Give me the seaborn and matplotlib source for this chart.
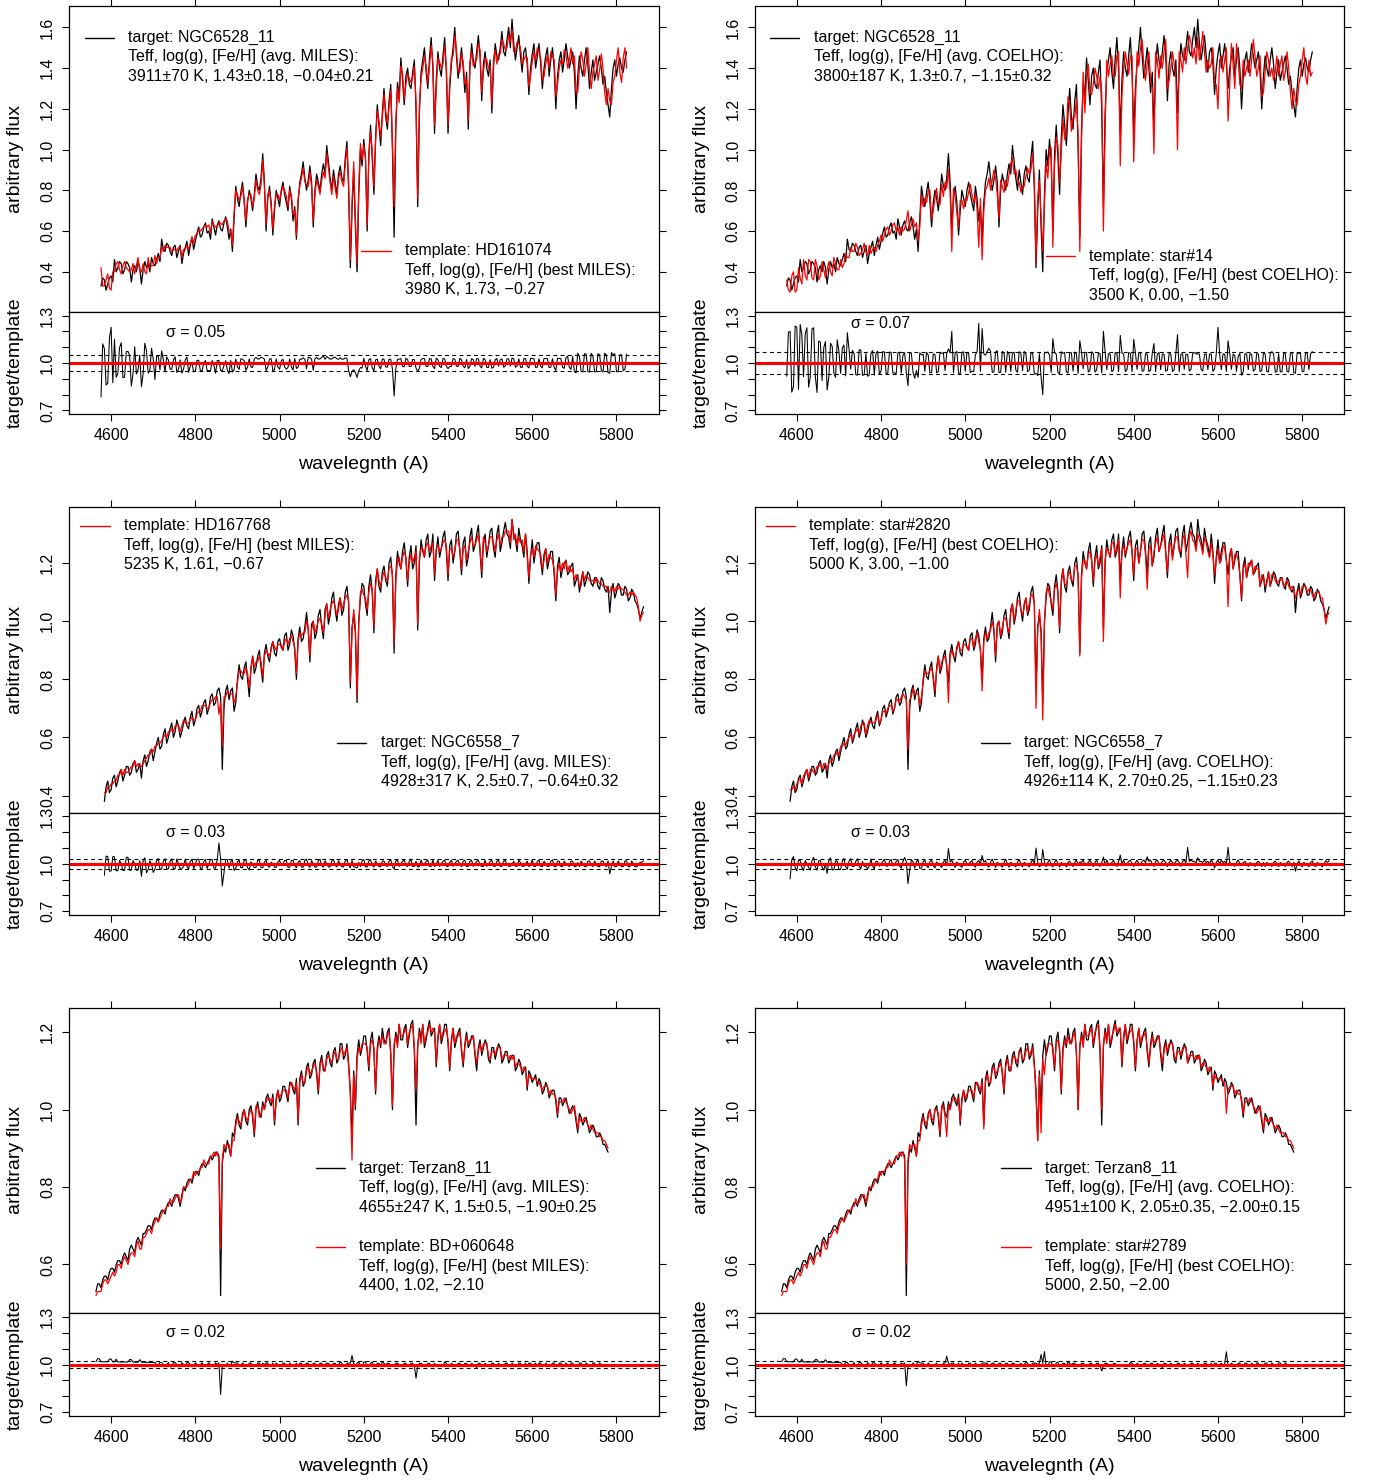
import numpy as np
import pandas as pd
import matplotlib
matplotlib.use("Agg")
import matplotlib.pyplot as plt
from matplotlib.lines import Line2D
import seaborn as sns

W, H, DPI = 1375, 1481, 100

# ---------------------------------------------------------------- data
# spectra are sampled every 4 A starting at the first wavelength of each star
wl_step = 4
wl_start_ngc6528 = 4576
wl_start_ngc6558 = 4584
wl_start_terzan8 = 4564

target_ngc6528 = [
    0.33, 0.37, 0.36, 0.31, 0.34, 0.37, 0.38, 0.35, 0.46, 0.40,
    0.42, 0.45, 0.44, 0.39, 0.41, 0.45, 0.44, 0.42, 0.35, 0.41,
    0.43, 0.40, 0.45, 0.42, 0.34, 0.41, 0.45, 0.42, 0.44, 0.40,
    0.47, 0.44, 0.43, 0.46, 0.49, 0.45, 0.56, 0.51, 0.50, 0.54,
    0.53, 0.50, 0.48, 0.52, 0.53, 0.47, 0.50, 0.53, 0.44, 0.49,
    0.52, 0.55, 0.48, 0.53, 0.57, 0.51, 0.55, 0.59, 0.62, 0.57,
    0.58, 0.62, 0.64, 0.59, 0.60, 0.56, 0.66, 0.62, 0.58, 0.63,
    0.65, 0.61, 0.60, 0.64, 0.67, 0.62, 0.56, 0.61, 0.50, 0.66,
    0.82, 0.76, 0.72, 0.79, 0.84, 0.75, 0.62, 0.74, 0.80, 0.76,
    0.70, 0.78, 0.88, 0.82, 0.80, 0.86, 0.98, 0.84, 0.60, 0.76,
    0.82, 0.74, 0.58, 0.70, 0.80, 0.76, 0.72, 0.80, 0.84, 0.78,
    0.74, 0.70, 0.82, 0.76, 0.65, 0.72, 0.56, 0.74, 0.84, 0.88,
    0.94, 0.86, 0.80, 0.85, 0.92, 0.84, 0.62, 0.80, 0.88, 0.84,
    0.80, 0.88, 0.93, 0.88, 1.02, 0.94, 0.86, 0.80, 0.90, 0.84,
    0.78, 0.88, 0.92, 0.86, 0.84, 0.96, 1.04, 0.80, 0.42, 0.70,
    0.90, 0.62, 0.40, 0.78, 1.00, 0.92, 1.05, 0.95, 0.60, 0.98,
    1.12, 0.96, 0.78, 1.06, 1.22, 1.12, 1.02, 1.18, 1.30, 1.16,
    1.10, 1.24, 1.32, 1.00, 0.57, 1.10, 1.33, 1.26, 1.45, 1.34,
    1.22, 1.36, 1.40, 1.32, 1.30, 1.38, 1.44, 1.20, 0.72, 1.18,
    1.38, 1.44, 1.50, 1.38, 1.30, 1.45, 1.55, 1.40, 1.08, 1.34,
    1.48, 1.40, 1.36, 1.46, 1.55, 1.38, 1.08, 1.30, 1.42, 1.50,
    1.60, 1.46, 1.35, 1.42, 1.50, 1.40, 1.28, 1.38, 1.10, 1.40,
    1.52, 1.44, 1.40, 1.48, 1.56, 1.46, 1.24, 1.42, 1.48, 1.40,
    1.36, 1.44, 1.18, 1.40, 1.52, 1.46, 1.44, 1.50, 1.58, 1.48,
    1.46, 1.54, 1.60, 1.50, 1.64, 1.52, 1.44, 1.50, 1.56, 1.46,
    1.38, 1.48, 1.50, 1.42, 1.27, 1.40, 1.47, 1.52, 1.40, 1.46,
    1.52, 1.42, 1.30, 1.40, 1.46, 1.50, 1.36, 1.44, 1.50, 1.40,
    1.20, 1.36, 1.44, 1.48, 1.38, 1.44, 1.52, 1.46, 1.40, 1.44,
    1.48, 1.38, 1.20, 1.36, 1.46, 1.40, 1.36, 1.44, 1.50, 1.42,
    1.30, 1.38, 1.44, 1.34, 1.38, 1.42, 1.46, 1.40, 1.32, 1.36,
    1.28, 1.22, 1.16, 1.30, 1.40, 1.44, 1.36, 1.42, 1.45, 1.40,
    1.38, 1.44, 1.48,
]
miles_hd161074 = [
    0.42, 0.33, 0.33, 0.36, 0.39, 0.32, 0.31, 0.40, 0.40, 0.44,
    0.45, 0.41, 0.39, 0.43, 0.45, 0.42, 0.41, 0.40, 0.41, 0.44,
    0.39, 0.43, 0.47, 0.40, 0.40, 0.44, 0.40, 0.39, 0.47, 0.42,
    0.43, 0.43, 0.48, 0.44, 0.47, 0.47, 0.52, 0.50, 0.53, 0.52,
    0.52, 0.52, 0.50, 0.51, 0.51, 0.50, 0.52, 0.52, 0.47, 0.51,
    0.51, 0.53, 0.51, 0.54, 0.57, 0.54, 0.58, 0.58, 0.61, 0.60,
    0.61, 0.62, 0.63, 0.62, 0.63, 0.59, 0.65, 0.63, 0.62, 0.62,
    0.64, 0.64, 0.63, 0.65, 0.66, 0.65, 0.60, 0.60, 0.53, 0.69,
    0.80, 0.78, 0.75, 0.77, 0.82, 0.74, 0.65, 0.76, 0.78, 0.78,
    0.72, 0.76, 0.85, 0.80, 0.78, 0.83, 0.95, 0.82, 0.63, 0.78,
    0.80, 0.72, 0.61, 0.73, 0.78, 0.78, 0.75, 0.79, 0.82, 0.80,
    0.77, 0.72, 0.80, 0.78, 0.68, 0.70, 0.58, 0.76, 0.82, 0.86,
    0.91, 0.84, 0.83, 0.82, 0.89, 0.82, 0.65, 0.78, 0.85, 0.82,
    0.78, 0.85, 0.89, 0.86, 0.98, 0.91, 0.84, 0.78, 0.87, 0.81,
    0.76, 0.86, 0.89, 0.84, 0.82, 0.93, 1.01, 0.84, 0.46, 0.74,
    0.94, 0.66, 0.44, 0.82, 1.03, 0.95, 1.02, 0.97, 0.63, 0.96,
    1.09, 0.99, 0.82, 1.04, 1.19, 1.14, 1.06, 1.15, 1.27, 1.19,
    1.13, 1.21, 1.29, 1.04, 0.72, 1.14, 1.30, 1.23, 1.41, 1.37,
    1.25, 1.32, 1.37, 1.35, 1.33, 1.35, 1.41, 1.24, 0.76, 1.22,
    1.35, 1.40, 1.46, 1.41, 1.33, 1.41, 1.51, 1.43, 1.12, 1.30,
    1.45, 1.43, 1.40, 1.42, 1.51, 1.41, 1.12, 1.33, 1.45, 1.46,
    1.56, 1.49, 1.38, 1.38, 1.47, 1.43, 1.32, 1.35, 1.14, 1.43,
    1.48, 1.41, 1.43, 1.44, 1.52, 1.49, 1.28, 1.38, 1.45, 1.44,
    1.40, 1.41, 1.22, 1.44, 1.49, 1.42, 1.47, 1.47, 1.54, 1.52,
    1.49, 1.50, 1.56, 1.53, 1.59, 1.48, 1.48, 1.53, 1.52, 1.50,
    1.42, 1.44, 1.46, 1.45, 1.31, 1.36, 1.43, 1.48, 1.44, 1.50,
    1.48, 1.45, 1.34, 1.36, 1.42, 1.46, 1.40, 1.48, 1.46, 1.44,
    1.26, 1.32, 1.40, 1.44, 1.42, 1.49, 1.47, 1.40, 1.44, 1.50,
    1.42, 1.46, 1.28, 1.28, 1.40, 1.48, 1.44, 1.36, 1.42, 1.50,
    1.38, 1.30, 1.38, 1.42, 1.46, 1.34, 1.39, 1.47, 1.40, 1.28,
    1.22, 1.30, 1.24, 1.22, 1.33, 1.36, 1.44, 1.50, 1.38, 1.33,
    1.45, 1.50, 1.40,
]
coelho_star14 = [
    0.36, 0.31, 0.30, 0.38, 0.40, 0.30, 0.31, 0.42, 0.37, 0.34,
    0.46, 0.38, 0.36, 0.46, 0.45, 0.37, 0.36, 0.46, 0.43, 0.36,
    0.38, 0.45, 0.41, 0.37, 0.41, 0.45, 0.40, 0.38, 0.47, 0.44,
    0.41, 0.41, 0.46, 0.42, 0.44, 0.49, 0.47, 0.47, 0.52, 0.50,
    0.50, 0.54, 0.52, 0.48, 0.49, 0.51, 0.54, 0.50, 0.48, 0.53,
    0.49, 0.51, 0.52, 0.50, 0.53, 0.55, 0.58, 0.55, 0.58, 0.61,
    0.62, 0.58, 0.60, 0.63, 0.64, 0.60, 0.62, 0.58, 0.62, 0.60,
    0.61, 0.65, 0.70, 0.60, 0.63, 0.66, 0.62, 0.64, 0.55, 0.62,
    0.78, 0.72, 0.76, 0.74, 0.80, 0.80, 0.66, 0.70, 0.76, 0.81,
    0.74, 0.73, 0.83, 0.77, 0.84, 0.81, 0.90, 0.79, 0.50, 0.81,
    0.77, 0.69, 0.62, 0.75, 0.75, 0.71, 0.76, 0.75, 0.79, 0.83,
    0.78, 0.74, 0.78, 0.71, 0.52, 0.76, 0.46, 0.70, 0.80, 0.82,
    0.86, 0.80, 0.85, 0.90, 0.86, 0.78, 0.66, 0.85, 0.82, 0.79,
    0.85, 0.82, 0.88, 0.93, 0.96, 0.88, 0.90, 0.85, 0.84, 0.79,
    0.82, 0.82, 0.87, 0.91, 0.88, 0.90, 0.98, 0.86, 0.45, 0.76,
    0.85, 0.68, 0.50, 0.73, 0.94, 0.86, 1.00, 1.01, 0.52, 0.92,
    1.06, 1.02, 0.84, 0.99, 1.15, 1.05, 1.08, 1.26, 1.22, 1.09,
    1.16, 1.16, 1.25, 1.07, 0.50, 1.03, 1.38, 1.18, 1.36, 1.42,
    1.28, 1.27, 1.32, 1.40, 1.36, 1.30, 1.36, 1.28, 0.60, 1.10,
    1.44, 1.36, 1.42, 1.46, 1.36, 1.36, 1.46, 1.48, 0.92, 1.26,
    1.40, 1.48, 1.42, 1.37, 1.46, 1.46, 0.94, 1.22, 1.48, 1.41,
    1.50, 1.54, 1.42, 1.34, 1.42, 1.48, 1.34, 1.30, 0.98, 1.48,
    1.44, 1.35, 1.46, 1.40, 1.48, 1.54, 1.30, 1.34, 1.40, 1.48,
    1.42, 1.36, 1.00, 1.48, 1.44, 1.38, 1.50, 1.42, 1.50, 1.56,
    1.52, 1.45, 1.50, 1.42, 1.55, 1.44, 1.50, 1.58, 1.48, 1.38,
    1.44, 1.40, 1.42, 1.50, 1.32, 1.32, 1.20, 1.44, 1.46, 1.38,
    1.44, 1.50, 1.14, 1.32, 1.52, 1.42, 1.30, 1.52, 1.44, 1.32,
    1.30, 1.44, 1.36, 1.40, 1.44, 1.36, 1.44, 1.54, 1.46, 1.36,
    1.40, 1.46, 1.26, 1.28, 1.38, 1.48, 1.44, 1.36, 1.40, 1.34,
    1.38, 1.46, 1.36, 1.42, 1.46, 1.34, 1.38, 1.48, 1.40, 1.28,
    1.20, 1.30, 1.24, 1.22, 1.32, 1.36, 1.44, 1.50, 1.36, 1.32,
    1.44, 1.36, 1.38,
]

target_ngc6558 = [
    0.38, 0.43, 0.45, 0.41, 0.42, 0.46, 0.47, 0.43, 0.45, 0.48,
    0.49, 0.45, 0.47, 0.50, 0.50, 0.47, 0.48, 0.51, 0.52, 0.48,
    0.49, 0.51, 0.46, 0.52, 0.54, 0.50, 0.52, 0.55, 0.56, 0.52,
    0.55, 0.58, 0.60, 0.56, 0.57, 0.61, 0.63, 0.58, 0.60, 0.63,
    0.65, 0.60, 0.62, 0.66, 0.64, 0.60, 0.62, 0.65, 0.67, 0.64,
    0.63, 0.67, 0.69, 0.64, 0.66, 0.70, 0.71, 0.67, 0.69, 0.72,
    0.73, 0.68, 0.70, 0.74, 0.75, 0.71, 0.72, 0.76, 0.77, 0.74,
    0.49, 0.70, 0.76, 0.78, 0.73, 0.76, 0.77, 0.69, 0.72, 0.80,
    0.85, 0.81, 0.80, 0.84, 0.86, 0.80, 0.74, 0.84, 0.88, 0.82,
    0.84, 0.88, 0.90, 0.84, 0.79, 0.89, 0.92, 0.88, 0.86, 0.91,
    0.93, 0.89, 0.88, 0.93, 0.94, 0.91, 0.90, 0.95, 0.96, 0.90,
    0.92, 0.97, 0.95, 0.90, 0.80, 0.94, 0.98, 0.93, 0.94, 0.98,
    1.03, 0.97, 0.86, 0.99, 1.00, 0.94, 0.96, 1.02, 1.04, 0.98,
    0.94, 1.04, 1.06, 0.99, 1.02, 1.08, 1.10, 1.04, 1.00, 1.06,
    1.08, 1.02, 1.04, 1.10, 1.12, 1.06, 0.77, 0.98, 1.02, 0.96,
    0.72, 1.00, 1.08, 1.13, 1.12, 1.06, 1.02, 1.12, 1.16, 1.10,
    0.96, 1.14, 1.18, 1.12, 1.10, 1.17, 1.19, 1.14, 1.12, 1.20,
    1.22, 1.15, 0.89, 1.16, 1.24, 1.20, 1.18, 1.24, 1.27, 1.21,
    1.12, 1.22, 1.26, 1.18, 1.20, 1.26, 0.97, 1.20, 1.28, 1.24,
    1.22, 1.28, 1.30, 1.22, 1.24, 1.30, 1.14, 1.24, 1.29, 1.22,
    1.25, 1.29, 1.31, 1.24, 1.14, 1.26, 1.28, 1.20, 1.24, 1.30,
    1.31, 1.24, 1.16, 1.27, 1.29, 1.19, 1.22, 1.29, 1.32, 1.24,
    1.26, 1.30, 1.33, 1.24, 1.15, 1.27, 1.30, 1.22, 1.26, 1.31,
    1.32, 1.25, 1.22, 1.30, 1.33, 1.24, 1.27, 1.31, 1.34, 1.30,
    1.29, 1.25, 1.35, 1.30, 1.28, 1.24, 1.32, 1.28, 1.26, 1.22,
    1.30, 1.24, 1.13, 1.22, 1.28, 1.20, 1.24, 1.27, 1.27, 1.21,
    1.16, 1.23, 1.25, 1.18, 1.21, 1.24, 1.24, 1.16, 1.07, 1.19,
    1.22, 1.15, 1.18, 1.20, 1.21, 1.16, 1.17, 1.19, 1.20, 1.12,
    1.14, 1.16, 1.10, 1.14, 1.17, 1.12, 1.14, 1.17, 1.16, 1.13,
    1.12, 1.15, 1.15, 1.12, 1.11, 1.15, 1.14, 1.11, 1.10, 1.12,
    1.03, 1.10, 1.13, 1.08, 1.10, 1.13, 1.12, 1.09, 1.09, 1.12,
    1.11, 1.07, 1.08, 1.11, 1.10, 1.07, 1.06, 1.04, 1.01, 1.03,
    1.05,
]
miles_hd167768 = [
    0.41, 0.41, 0.43, 0.43, 0.44, 0.44, 0.45, 0.45, 0.47, 0.47,
    0.49, 0.47, 0.49, 0.48, 0.48, 0.49, 0.50, 0.50, 0.52, 0.50,
    0.51, 0.50, 0.50, 0.51, 0.52, 0.53, 0.54, 0.54, 0.56, 0.55,
    0.57, 0.57, 0.58, 0.58, 0.59, 0.60, 0.61, 0.60, 0.62, 0.62,
    0.63, 0.62, 0.64, 0.64, 0.64, 0.62, 0.64, 0.66, 0.65, 0.65,
    0.65, 0.66, 0.67, 0.66, 0.66, 0.68, 0.69, 0.69, 0.71, 0.71,
    0.71, 0.70, 0.70, 0.72, 0.73, 0.73, 0.74, 0.74, 0.68, 0.72,
    0.57, 0.74, 0.74, 0.76, 0.75, 0.75, 0.75, 0.72, 0.74, 0.79,
    0.83, 0.83, 0.82, 0.82, 0.84, 0.82, 0.77, 0.83, 0.88, 0.84,
    0.86, 0.86, 0.88, 0.86, 0.81, 0.88, 0.90, 0.89, 0.88, 0.90,
    0.93, 0.91, 0.90, 0.92, 0.92, 0.92, 0.90, 0.93, 0.94, 0.92,
    0.94, 0.95, 0.93, 0.91, 0.82, 0.93, 0.96, 0.95, 0.96, 0.96,
    1.00, 0.98, 0.88, 0.97, 1.00, 0.96, 0.98, 1.00, 1.01, 0.99,
    0.96, 1.02, 1.06, 1.01, 1.04, 1.06, 1.07, 1.05, 1.02, 1.04,
    1.08, 1.04, 1.06, 1.08, 1.09, 1.07, 0.79, 0.96, 1.04, 0.98,
    0.74, 0.99, 1.10, 1.11, 1.09, 1.08, 1.04, 1.10, 1.13, 1.11,
    0.98, 1.12, 1.18, 1.14, 1.12, 1.15, 1.17, 1.15, 1.14, 1.18,
    1.19, 1.17, 0.92, 1.14, 1.21, 1.22, 1.18, 1.22, 1.24, 1.22,
    1.14, 1.20, 1.23, 1.20, 1.22, 1.24, 0.99, 1.22, 1.25, 1.25,
    1.22, 1.26, 1.27, 1.24, 1.26, 1.27, 1.16, 1.25, 1.26, 1.24,
    1.25, 1.27, 1.28, 1.26, 1.16, 1.25, 1.25, 1.22, 1.24, 1.28,
    1.28, 1.25, 1.18, 1.25, 1.26, 1.21, 1.24, 1.27, 1.29, 1.26,
    1.26, 1.28, 1.30, 1.25, 1.17, 1.29, 1.27, 1.24, 1.26, 1.29,
    1.29, 1.27, 1.24, 1.28, 1.30, 1.26, 1.29, 1.29, 1.31, 1.31,
    1.31, 1.27, 1.35, 1.28, 1.30, 1.26, 1.29, 1.27, 1.28, 1.24,
    1.30, 1.22, 1.15, 1.23, 1.25, 1.22, 1.26, 1.25, 1.24, 1.23,
    1.18, 1.21, 1.25, 1.20, 1.23, 1.22, 1.21, 1.18, 1.09, 1.17,
    1.20, 1.17, 1.20, 1.18, 1.21, 1.17, 1.19, 1.17, 1.18, 1.14,
    1.16, 1.15, 1.12, 1.12, 1.17, 1.14, 1.16, 1.15, 1.14, 1.14,
    1.14, 1.13, 1.15, 1.14, 1.13, 1.13, 1.12, 1.12, 1.12, 1.10,
    1.10, 1.12, 1.11, 1.10, 1.12, 1.11, 1.12, 1.11, 1.11, 1.10,
    1.09, 1.09, 1.10, 1.09, 1.10, 1.09, 1.08, 1.05, 1.00, 1.02,
    1.03,
]
coelho_star2820 = [
    0.42, 0.42, 0.43, 0.42, 0.44, 0.45, 0.46, 0.44, 0.47, 0.47,
    0.49, 0.46, 0.49, 0.49, 0.48, 0.48, 0.50, 0.50, 0.51, 0.49,
    0.51, 0.51, 0.49, 0.51, 0.52, 0.52, 0.54, 0.54, 0.55, 0.54,
    0.57, 0.57, 0.58, 0.57, 0.59, 0.60, 0.61, 0.59, 0.61, 0.62,
    0.63, 0.61, 0.64, 0.65, 0.65, 0.61, 0.64, 0.66, 0.65, 0.65,
    0.65, 0.66, 0.68, 0.65, 0.66, 0.69, 0.69, 0.68, 0.70, 0.71,
    0.71, 0.69, 0.70, 0.73, 0.73, 0.72, 0.74, 0.75, 0.74, 0.73,
    0.56, 0.73, 0.74, 0.77, 0.75, 0.75, 0.75, 0.71, 0.74, 0.79,
    0.83, 0.82, 0.82, 0.83, 0.84, 0.81, 0.76, 0.83, 0.88, 0.83,
    0.86, 0.87, 0.88, 0.85, 0.72, 0.88, 0.90, 0.88, 0.88, 0.90,
    0.93, 0.90, 0.90, 0.92, 0.92, 0.91, 0.90, 0.94, 0.94, 0.91,
    0.94, 0.96, 0.93, 0.90, 0.76, 0.93, 0.96, 0.94, 0.96, 0.97,
    1.00, 0.97, 0.88, 0.98, 1.00, 0.95, 0.98, 1.01, 1.01, 0.98,
    0.96, 1.03, 1.06, 1.00, 1.04, 1.07, 1.07, 1.04, 1.02, 1.05,
    1.08, 1.03, 1.06, 1.09, 1.09, 1.06, 0.70, 0.97, 1.04, 0.97,
    0.66, 0.99, 1.10, 1.12, 1.09, 1.07, 1.04, 1.11, 1.13, 1.10,
    0.98, 1.13, 1.18, 1.13, 1.12, 1.16, 1.17, 1.14, 1.14, 1.19,
    1.19, 1.16, 0.88, 1.15, 1.21, 1.21, 1.18, 1.23, 1.24, 1.21,
    1.14, 1.21, 1.23, 1.19, 1.22, 1.25, 0.93, 1.21, 1.25, 1.24,
    1.22, 1.27, 1.27, 1.23, 1.26, 1.28, 1.08, 1.24, 1.26, 1.23,
    1.25, 1.27, 1.28, 1.24, 1.16, 1.25, 1.25, 1.20, 1.24, 1.28,
    1.28, 1.23, 1.11, 1.25, 1.26, 1.19, 1.24, 1.27, 1.29, 1.24,
    1.26, 1.28, 1.30, 1.23, 1.17, 1.26, 1.27, 1.21, 1.26, 1.29,
    1.29, 1.24, 1.24, 1.28, 1.30, 1.23, 1.15, 1.29, 1.31, 1.28,
    1.27, 1.24, 1.30, 1.28, 1.26, 1.23, 1.29, 1.27, 1.24, 1.22,
    1.27, 1.23, 1.16, 1.21, 1.25, 1.20, 1.21, 1.26, 1.25, 1.21,
    1.05, 1.22, 1.25, 1.18, 1.23, 1.23, 1.21, 1.16, 1.08, 1.18,
    1.20, 1.15, 1.20, 1.19, 1.21, 1.16, 1.19, 1.18, 1.18, 1.12,
    1.16, 1.15, 1.12, 1.13, 1.17, 1.12, 1.16, 1.16, 1.14, 1.13,
    1.14, 1.14, 1.15, 1.12, 1.13, 1.14, 1.12, 1.11, 1.12, 1.11,
    1.08, 1.10, 1.11, 1.09, 1.12, 1.12, 1.12, 1.10, 1.11, 1.11,
    1.09, 1.08, 1.10, 1.10, 1.10, 1.08, 1.08, 1.04, 0.99, 1.02,
    1.03,
]

target_terzan8 = [
    0.53, 0.55, 0.55, 0.54, 0.56, 0.57, 0.57, 0.56, 0.58, 0.59,
    0.59, 0.58, 0.60, 0.61, 0.61, 0.60, 0.62, 0.63, 0.62, 0.61,
    0.64, 0.65, 0.64, 0.63, 0.66, 0.67, 0.66, 0.65, 0.68, 0.68,
    0.69, 0.70, 0.70, 0.69, 0.71, 0.72, 0.72, 0.71, 0.73, 0.74,
    0.74, 0.73, 0.75, 0.76, 0.76, 0.75, 0.77, 0.78, 0.78, 0.77,
    0.75, 0.78, 0.80, 0.79, 0.81, 0.82, 0.82, 0.81, 0.83, 0.84,
    0.84, 0.83, 0.85, 0.86, 0.86, 0.85, 0.86, 0.87, 0.88, 0.87,
    0.88, 0.89, 0.89, 0.88, 0.52, 0.86, 0.90, 0.89, 0.92, 0.90,
    0.88, 0.94, 0.93, 0.97, 0.99, 0.96, 0.95, 0.99, 1.00, 0.97,
    0.96, 1.00, 1.01, 0.98, 0.93, 1.00, 1.02, 0.99, 0.98, 1.02,
    1.00, 1.03, 1.04, 1.02, 1.01, 1.04, 0.96, 1.03, 1.05, 1.02,
    1.03, 1.06, 1.06, 1.04, 1.02, 1.07, 1.07, 1.05, 1.04, 1.08,
    0.96, 1.08, 1.10, 1.06, 1.07, 1.11, 1.12, 1.08, 1.09, 1.12,
    1.13, 1.09, 1.04, 1.12, 1.14, 1.10, 1.10, 1.14, 1.15, 1.12,
    1.11, 1.15, 1.16, 1.12, 1.13, 1.17, 1.17, 1.13, 1.14, 1.17,
    1.12, 1.05, 0.92, 1.10, 1.00, 1.14, 1.18, 1.14, 1.16, 1.19,
    1.19, 1.15, 1.10, 1.18, 1.20, 1.15, 1.04, 1.16, 1.19, 1.16,
    1.21, 1.18, 1.17, 1.20, 1.21, 1.14, 1.00, 1.16, 1.20, 1.17,
    1.22, 1.18, 1.18, 1.21, 1.22, 1.16, 1.19, 1.22, 1.23, 1.15,
    0.96, 1.16, 1.21, 1.18, 1.22, 1.16, 1.18, 1.21, 1.23, 1.19,
    1.20, 1.21, 1.11, 1.18, 1.22, 1.17, 1.19, 1.22, 1.22, 1.17,
    1.10, 1.18, 1.21, 1.16, 1.18, 1.20, 1.21, 1.15, 1.11, 1.17,
    1.20, 1.16, 1.17, 1.19, 1.19, 1.14, 1.10, 1.16, 1.18, 1.14,
    1.16, 1.18, 1.17, 1.13, 1.12, 1.16, 1.16, 1.13, 1.15, 1.17,
    1.16, 1.12, 1.13, 1.15, 1.15, 1.12, 1.13, 1.14, 1.14, 1.10,
    1.11, 1.13, 1.12, 1.09, 1.10, 1.11, 1.05, 1.10, 1.09, 1.07,
    1.08, 1.09, 1.06, 1.08, 1.07, 1.04, 1.05, 1.07, 1.06, 1.03,
    1.04, 1.05, 1.05, 1.02, 0.98, 1.03, 1.03, 1.01, 1.02, 1.03,
    1.01, 0.99, 1.00, 1.01, 1.00, 0.97, 0.94, 0.99, 0.98, 0.96,
    0.97, 0.98, 0.96, 0.94, 0.95, 0.96, 0.95, 0.93, 0.93, 0.94,
    0.93, 0.91, 0.91, 0.90, 0.89,
]
miles_bd060648 = [
    0.52, 0.53, 0.53, 0.53, 0.55, 0.56, 0.56, 0.55, 0.56, 0.57,
    0.58, 0.57, 0.58, 0.60, 0.60, 0.59, 0.61, 0.62, 0.61, 0.60,
    0.62, 0.63, 0.63, 0.62, 0.65, 0.66, 0.64, 0.64, 0.67, 0.67,
    0.68, 0.69, 0.69, 0.68, 0.70, 0.71, 0.72, 0.71, 0.72, 0.73,
    0.74, 0.74, 0.75, 0.75, 0.77, 0.76, 0.76, 0.77, 0.78, 0.78,
    0.76, 0.77, 0.80, 0.80, 0.80, 0.81, 0.82, 0.82, 0.84, 0.83,
    0.84, 0.84, 0.85, 0.85, 0.87, 0.86, 0.86, 0.86, 0.88, 0.88,
    0.89, 0.88, 0.89, 0.87, 0.64, 0.87, 0.91, 0.90, 0.91, 0.91,
    0.88, 0.92, 0.92, 0.96, 0.98, 0.97, 0.96, 0.98, 1.00, 0.98,
    0.97, 0.99, 1.00, 0.99, 0.94, 1.01, 1.01, 0.98, 0.99, 1.01,
    1.00, 1.02, 1.03, 1.03, 1.02, 1.03, 0.97, 1.02, 1.05, 1.03,
    1.04, 1.05, 1.05, 1.05, 1.03, 1.06, 1.07, 1.06, 1.05, 1.07,
    0.97, 1.07, 1.09, 1.07, 1.07, 1.10, 1.11, 1.09, 1.10, 1.11,
    1.12, 1.10, 1.05, 1.11, 1.13, 1.11, 1.10, 1.13, 1.14, 1.13,
    1.12, 1.14, 1.15, 1.13, 1.13, 1.15, 1.16, 1.14, 1.15, 1.16,
    1.11, 1.04, 0.87, 1.09, 1.01, 1.13, 1.16, 1.15, 1.17, 1.17,
    1.17, 1.16, 1.11, 1.17, 1.18, 1.16, 1.05, 1.15, 1.18, 1.17,
    1.19, 1.17, 1.17, 1.19, 1.20, 1.15, 1.01, 1.17, 1.19, 1.16,
    1.22, 1.19, 1.19, 1.20, 1.21, 1.17, 1.20, 1.21, 1.22, 1.16,
    1.05, 1.17, 1.20, 1.17, 1.22, 1.17, 1.19, 1.20, 1.22, 1.20,
    1.21, 1.20, 1.12, 1.19, 1.22, 1.18, 1.20, 1.20, 1.21, 1.18,
    1.11, 1.17, 1.21, 1.17, 1.19, 1.19, 1.20, 1.16, 1.12, 1.16,
    1.19, 1.17, 1.18, 1.18, 1.19, 1.15, 1.12, 1.15, 1.17, 1.15,
    1.17, 1.17, 1.17, 1.14, 1.13, 1.15, 1.15, 1.14, 1.16, 1.16,
    1.16, 1.13, 1.14, 1.14, 1.14, 1.13, 1.14, 1.13, 1.14, 1.11,
    1.12, 1.12, 1.11, 1.10, 1.11, 1.10, 1.06, 1.09, 1.08, 1.08,
    1.08, 1.08, 1.07, 1.07, 1.06, 1.05, 1.06, 1.06, 1.06, 1.04,
    1.05, 1.04, 1.04, 1.03, 0.99, 1.02, 1.02, 1.02, 1.03, 1.02,
    1.01, 1.00, 0.99, 1.00, 1.01, 0.98, 0.95, 0.98, 0.97, 0.97,
    0.98, 0.97, 0.96, 0.95, 0.96, 0.95, 0.94, 0.94, 0.94, 0.93,
    0.93, 0.92, 0.92, 0.91, 0.90,
]
coelho_star2789 = [
    0.52, 0.53, 0.53, 0.53, 0.55, 0.56, 0.56, 0.55, 0.56, 0.57,
    0.58, 0.57, 0.58, 0.60, 0.60, 0.59, 0.61, 0.62, 0.61, 0.60,
    0.62, 0.63, 0.63, 0.62, 0.65, 0.66, 0.64, 0.64, 0.67, 0.67,
    0.68, 0.69, 0.69, 0.68, 0.70, 0.71, 0.72, 0.71, 0.72, 0.73,
    0.74, 0.74, 0.75, 0.75, 0.77, 0.76, 0.76, 0.77, 0.78, 0.78,
    0.76, 0.77, 0.80, 0.80, 0.80, 0.81, 0.82, 0.82, 0.84, 0.83,
    0.84, 0.84, 0.85, 0.85, 0.87, 0.86, 0.86, 0.86, 0.88, 0.88,
    0.89, 0.88, 0.89, 0.87, 0.60, 0.87, 0.91, 0.90, 0.91, 0.91,
    0.88, 0.92, 0.92, 0.96, 0.98, 0.97, 0.96, 0.98, 1.00, 0.98,
    0.97, 1.00, 1.00, 0.99, 0.94, 1.01, 1.01, 0.98, 0.93, 1.01,
    1.00, 1.02, 1.03, 1.03, 1.02, 1.03, 0.97, 1.02, 1.05, 1.03,
    1.04, 1.05, 1.05, 1.05, 1.03, 1.06, 1.07, 1.06, 1.05, 1.07,
    0.95, 1.07, 1.09, 1.07, 1.07, 1.10, 1.11, 1.09, 1.10, 1.11,
    1.12, 1.10, 1.05, 1.11, 1.13, 1.11, 1.10, 1.13, 1.14, 1.13,
    1.12, 1.15, 1.15, 1.13, 1.13, 1.15, 1.16, 1.14, 1.15, 1.16,
    1.11, 1.04, 0.92, 1.09, 0.94, 1.13, 1.09, 1.15, 1.17, 1.17,
    1.17, 1.16, 1.11, 1.17, 1.18, 1.16, 1.05, 1.15, 1.18, 1.17,
    1.19, 1.17, 1.17, 1.19, 1.20, 1.15, 1.00, 1.17, 1.19, 1.16,
    1.22, 1.19, 1.19, 1.20, 1.21, 1.17, 1.20, 1.21, 1.22, 1.16,
    1.00, 1.17, 1.20, 1.17, 1.22, 1.17, 1.19, 1.20, 1.22, 1.20,
    1.21, 1.21, 1.12, 1.19, 1.22, 1.18, 1.20, 1.20, 1.21, 1.18,
    1.11, 1.17, 1.21, 1.17, 1.19, 1.19, 1.20, 1.16, 1.12, 1.16,
    1.19, 1.17, 1.18, 1.18, 1.19, 1.15, 1.12, 1.15, 1.17, 1.15,
    1.17, 1.17, 1.17, 1.14, 1.13, 1.15, 1.15, 1.14, 1.16, 1.16,
    1.16, 1.12, 1.14, 1.14, 1.14, 1.13, 1.14, 1.13, 1.14, 1.11,
    1.12, 1.12, 1.11, 1.10, 1.11, 1.10, 1.06, 1.09, 1.08, 1.08,
    1.08, 1.08, 1.07, 1.07, 0.99, 1.05, 1.06, 1.06, 1.06, 1.04,
    1.05, 1.04, 1.04, 1.03, 0.99, 1.02, 1.02, 1.02, 1.03, 1.02,
    1.01, 1.00, 0.99, 1.00, 1.01, 0.98, 0.95, 0.98, 0.97, 0.97,
    0.98, 0.97, 0.96, 0.95, 0.96, 0.95, 0.94, 0.94, 0.94, 0.93,
    0.93, 0.92, 0.92, 0.91, 0.90,
]

# scatter of target/template quoted in each residual panel
sigma_values = [0.05, 0.07, 0.03, 0.03, 0.02, 0.02]

flux_ticks_ngc6528 = [0.4, 0.6, 0.8, 1.0, 1.2, 1.4, 1.6]
flux_ticks_ngc6558 = [0.4, 0.6, 0.8, 1.0, 1.2]
flux_ticks_terzan8 = [0.6, 0.8, 1.0, 1.2]
ratio_ticks = [0.7, 0.8, 0.9, 1.0, 1.1, 1.2, 1.3]
ratio_labels = ["0.7", "", "", "1.0", "", "", "1.3"]
wl_ticks = [4600, 4800, 5000, 5200, 5400, 5600, 5800]

txt_target_6528_miles = ["target: NGC6528_11", "Teff, log(g), [Fe/H] (avg. MILES):",
                         "3911±70 K, 1.43±0.18, −0.04±0.21"]
txt_target_6528_coelho = ["target: NGC6528_11", "Teff, log(g), [Fe/H] (avg. COELHO):",
                          "3800±187 K, 1.3±0.7, −1.15±0.32"]
txt_hd161074 = ["template: HD161074", "Teff, log(g), [Fe/H] (best MILES):", "3980 K, 1.73, −0.27"]
txt_star14 = ["template: star#14", "Teff, log(g), [Fe/H] (best COELHO):", "3500 K, 0.00, −1.50"]

txt_target_6558_miles = ["target: NGC6558_7", "Teff, log(g), [Fe/H] (avg. MILES):",
                         "4928±317 K, 2.5±0.7, −0.64±0.32"]
txt_target_6558_coelho = ["target: NGC6558_7", "Teff, log(g), [Fe/H] (avg. COELHO):",
                          "4926±114 K, 2.70±0.25, −1.15±0.23"]
txt_hd167768 = ["template: HD167768", "Teff, log(g), [Fe/H] (best MILES):", "5235 K, 1.61, −0.67"]
txt_star2820 = ["template: star#2820", "Teff, log(g), [Fe/H] (best COELHO):", "5000 K, 3.00, −1.00"]

txt_target_ter8_miles = ["target: Terzan8_11", "Teff, log(g), [Fe/H] (avg. MILES):",
                         "4655±247 K, 1.5±0.5, −1.90±0.25"]
txt_target_ter8_coelho = ["target: Terzan8_11", "Teff, log(g), [Fe/H] (avg. COELHO):",
                          "4951±100 K, 2.05±0.35, −2.00±0.15"]
txt_bd060648 = ["template: BD+060648", "Teff, log(g), [Fe/H] (best MILES):", "4400, 1.02, −2.10"]
txt_star2789 = ["template: star#2789", "Teff, log(g), [Fe/H] (best COELHO):", "5000, 2.50, −2.00"]

# ---------------------------------------------------------------- layout
col_px = [(69.0, 658.6), (754.7, 1344.3)]                 # left / right edge
row_px = [(6.0, 311.7, 414.3), (506.7, 812.7, 915.0), (1007.7, 1313.3, 1416.0)]
row_ylim = [(0.204, 1.705), (0.341, 1.394), (0.474, 1.263)]
LINE_GAP = 19.5

panels = [
    dict(row=0, col=0, start=wl_start_ngc6528, target=target_ngc6528, template=miles_hd161074,
         yticks=flux_ticks_ngc6528, sigma=sigma_values[0], sigma_y=1.195,
         keys=[("black", 85, 114, 128, 37.5, txt_target_6528_miles),
               ("red", 361, 391, 405, 251.0, txt_hd161074)]),
    dict(row=0, col=1, start=wl_start_ngc6528, target=target_ngc6528, template=coelho_star14,
         yticks=flux_ticks_ngc6528, sigma=sigma_values[1], sigma_y=1.25,
         keys=[("black", 770, 799, 814, 37.5, txt_target_6528_coelho),
               ("red", 1046, 1075, 1089, 256.0, txt_star14)]),
    dict(row=1, col=0, start=wl_start_ngc6558, target=target_ngc6558, template=miles_hd167768,
         yticks=flux_ticks_ngc6558, sigma=sigma_values[2], sigma_y=1.2,
         keys=[("red", 80, 110, 124.5, 525.5, txt_hd167768),
               ("black", 337, 366, 381, 742.5, txt_target_6558_miles)]),
    dict(row=1, col=1, start=wl_start_ngc6558, target=target_ngc6558, template=coelho_star2820,
         yticks=flux_ticks_ngc6558, sigma=sigma_values[3], sigma_y=1.2,
         keys=[("red", 766, 795, 809, 525.5, txt_star2820),
               ("black", 981, 1010, 1024, 742.5, txt_target_6558_coelho)]),
    dict(row=2, col=0, start=wl_start_terzan8, target=target_terzan8, template=miles_bd060648,
         yticks=flux_ticks_terzan8, sigma=sigma_values[4], sigma_y=1.2,
         keys=[("black", 316, 345, 359, 1168.0, txt_target_ter8_miles),
               ("red", 316, 345, 359, 1246.5, txt_bd060648)]),
    dict(row=2, col=1, start=wl_start_terzan8, target=target_terzan8, template=coelho_star2789,
         yticks=flux_ticks_terzan8, sigma=sigma_values[5], sigma_y=1.2,
         keys=[("black", 1001, 1031, 1045, 1168.0, txt_target_ter8_coelho),
               ("red", 1001, 1031, 1045, 1246.5, txt_star2789)]),
]

# ---------------------------------------------------------------- style
sns.set_style("ticks")
plt.rcParams.update({
    "font.family": ["Liberation Sans", "DejaVu Sans"],
    "font.size": 11.5,
    "text.color": "black",
    "axes.labelcolor": "black",
    "axes.edgecolor": "black",
    "axes.linewidth": 0.9,
    "axes.labelsize": 14,
    "xtick.color": "black", "ytick.color": "black",
    "xtick.direction": "out", "ytick.direction": "out",
    "xtick.major.size": 5, "ytick.major.size": 5,
    "xtick.major.width": 0.8, "ytick.major.width": 0.8,
    "xtick.major.pad": 5, "ytick.major.pad": 5,
    "xtick.labelsize": 11.5, "ytick.labelsize": 11.5,
})

fig = plt.figure(figsize=(W / DPI, H / DPI), dpi=DPI)


def rect(left, top, right, bottom):
    return [left / W, 1 - bottom / H, (right - left) / W, (bottom - top) / H]


def key(color, x0, x1, xt, y0, lines):
    fig.add_artist(Line2D([x0 / W, x1 / W], [1 - y0 / H, 1 - y0 / H],
                          transform=fig.transFigure, color=color, lw=1.0))
    for i, s in enumerate(lines):
        fig.text(xt / W, 1 - (y0 + i * LINE_GAP) / H, s, ha="left", va="center",
                 fontsize=11.5)


for p in panels:
    xl, xr = col_px[p["col"]]
    yt, ym, yb = row_px[p["row"]]
    ax = fig.add_axes(rect(xl, yt, xr, ym))
    axr = fig.add_axes(rect(xl, ym, xr, yb))

    n = len(p["target"])
    df = pd.DataFrame({
        "wavelength": p["start"] + wl_step * np.arange(n),
        "target": p["target"],
        "template": p["template"],
    })
    df["ratio"] = df["target"] / df["template"]

    # spectra
    sns.lineplot(data=df, x="wavelength", y="target", ax=ax, color="black", lw=0.9,
                 estimator=None, sort=False, legend=False)
    sns.lineplot(data=df, x="wavelength", y="template", ax=ax, color="#ff0000", lw=0.9,
                 estimator=None, sort=False, legend=False)
    ax.set_xlim(4500, 5900)
    ax.set_ylim(*row_ylim[p["row"]])
    ax.set_xticks(wl_ticks)
    ax.tick_params(axis="x", bottom=False, top=True, labelbottom=False, labeltop=False)
    ax.set_yticks(p["yticks"])
    ax.set_yticklabels([f"{v:.1f}" for v in p["yticks"]], rotation=90, va="center")
    ax.tick_params(axis="y", left=True, right=True, labelleft=True, labelright=False)
    ax.set_xlabel("")
    ax.set_ylabel("arbitrary flux")
    ax.yaxis.set_label_coords(-0.091, 0.5)
    ax.yaxis.label.set_va("center")

    # target / template ratio
    sns.lineplot(data=df, x="wavelength", y="ratio", ax=axr, color="black", lw=0.75,
                 estimator=None, sort=False, legend=False)
    axr.axhline(1.0, color="#ff0000", lw=2.2)
    for level in (1 + p["sigma"], 1 - p["sigma"]):
        axr.axhline(level, color="black", lw=0.8, ls=(0, (3.5, 3)))
    axr.text(4800, p["sigma_y"], f"σ = {p['sigma']:.2f}", ha="center", va="center",
             fontsize=11.5)
    axr.set_xlim(4500, 5900)
    axr.set_ylim(0.676, 1.324)
    axr.set_xticks(wl_ticks)
    axr.set_xticklabels([str(v) for v in wl_ticks])
    axr.tick_params(axis="x", bottom=True, top=False)
    axr.set_yticks(ratio_ticks)
    axr.set_yticklabels(ratio_labels, rotation=90, va="center")
    axr.tick_params(axis="y", left=True, right=True, labelleft=True, labelright=False)
    axr.set_xlabel("wavelegnth (A)")
    axr.xaxis.set_label_coords(0.5, -0.49)
    axr.xaxis.label.set_va("center")
    axr.set_ylabel("target/template")
    axr.yaxis.set_label_coords(-0.091, 0.5)
    axr.yaxis.label.set_va("center")

    for ax_ in (ax, axr):
        for s in ax_.spines.values():
            s.set_visible(True)

    for k in p["keys"]:
        key(*k)

fig.savefig("out.png", dpi=DPI)
